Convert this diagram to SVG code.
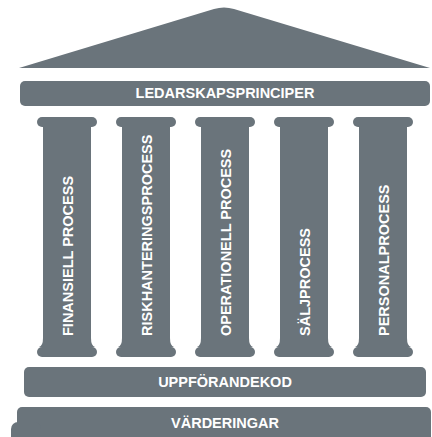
<svg xmlns="http://www.w3.org/2000/svg" width="432" height="437" viewBox="0 0 432 437">
  <defs>
    <style>
      .stone { fill: #6a747b; }
      .lbl { fill: #ffffff; font-family: "Liberation Sans", Arial, sans-serif; font-weight: bold; font-size: 14.5px; }
      .mid { text-anchor: middle; }
    </style>
    <!-- one pillar: capital, shaft and base, centred on x=0 -->
    <g id="pillarShape">
      <rect class="stone" x="-30" y="117" width="60" height="10" rx="5"/>
      <rect class="stone" x="-24" y="125" width="48" height="225"/>
      <path class="stone" d="M-24,338 Q-24,346 -28,347 L28,347 Q24,346 24,338 Z"/>
      <rect class="stone" x="-30" y="347" width="60" height="10" rx="5"/>
    </g>
  </defs>

  <g id="roof">
    <path class="stone" d="M19,68 L214,9 Q224,6 234,9 L430,68 Z"/>
  </g>

  <g id="ledarskapsprinciper">
    <rect class="stone" x="20" y="81" width="410" height="25" rx="5"/>
    <text class="lbl mid" x="225" y="97.5">LEDARSKAPSPRINCIPER</text>
  </g>

  <g id="finansiell-process">
    <use href="#pillarShape" x="67"/>
    <text class="lbl" transform="translate(72.5,336) rotate(-90)">FINANSIELL PROCESS</text>
  </g>

  <g id="riskhanteringsprocess">
    <use href="#pillarShape" x="146"/>
    <text class="lbl" transform="translate(151.5,336) rotate(-90)">RISKHANTERINGSPROCESS</text>
  </g>

  <g id="operationell-process">
    <use href="#pillarShape" x="225"/>
    <text class="lbl" transform="translate(230.5,336) rotate(-90)">OPERATIONELL PROCESS</text>
  </g>

  <g id="saljprocess">
    <use href="#pillarShape" x="304"/>
    <text class="lbl" transform="translate(309.5,336) rotate(-90)">SÄLJPROCESS</text>
  </g>

  <g id="personalprocess">
    <use href="#pillarShape" x="383"/>
    <text class="lbl" transform="translate(388.5,336) rotate(-90)">PERSONALPROCESS</text>
  </g>

  <g id="uppforandekod">
    <rect class="stone" x="24" y="367" width="402" height="30" rx="5"/>
    <text class="lbl mid" x="225" y="386.5">UPPFÖRANDEKOD</text>
  </g>

  <g id="varderingar">
    <rect class="stone" x="17" y="407" width="414" height="36" rx="5"/>
    <rect class="stone" x="11" y="422" width="30" height="22" rx="7"/>
    <text class="lbl mid" x="225" y="428">VÄRDERINGAR</text>
  </g>

  <g id="connectors"/>
</svg>
